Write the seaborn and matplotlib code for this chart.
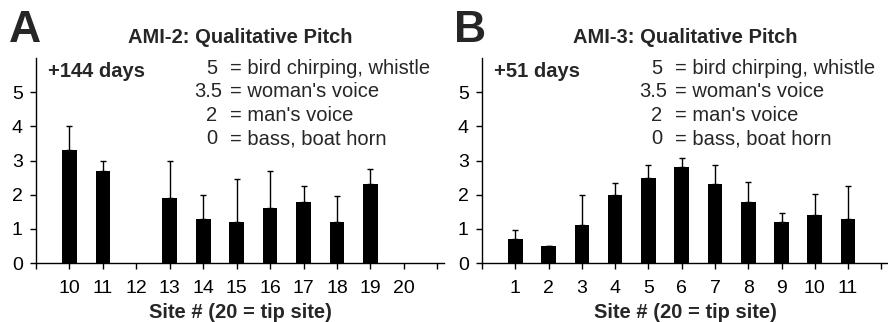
import matplotlib
matplotlib.use("Agg")
import matplotlib.pyplot as plt
import seaborn as sns
import pandas as pd
import numpy as np

# ---- data ----
sites_a = [10, 11, 13, 14, 15, 16, 17, 18, 19]
pitch_a = [3.3, 2.7, 1.9, 1.3, 1.2, 1.6, 1.8, 1.2, 2.3]
err_a = [0.7, 0.3, 1.1, 0.7, 1.25, 1.1, 0.45, 0.75, 0.45]
ticks_a = list(range(9, 22))
ticklabels_a = [""] + [str(s) for s in range(10, 21)] + [""]

sites_b = [1, 2, 3, 4, 5, 6, 7, 8, 9, 10, 11]
pitch_b = [0.7, 0.5, 1.1, 2.0, 2.5, 2.8, 2.3, 1.8, 1.2, 1.4, 1.3]
err_b = [0.28, 0.0, 0.9, 0.35, 0.36, 0.28, 0.57, 0.57, 0.27, 0.63, 0.96]
ticks_b = list(range(0, 13))
ticklabels_b = [""] + [str(s) for s in range(1, 12)] + [""]

titles = ["AMI-2: Qualitative Pitch", "AMI-3: Qualitative Pitch"]
days = ["+144 days", "+51 days"]
panel_letters = ["A", "B"]
key_values = ["5", "3.5", "2", "0"]
key_labels = ["= bird chirping, whistle", "= woman's voice", "= man's voice", "= bass, boat horn"]
xlabel = "Site # (20 = tip site)"
yticks = [0, 1, 2, 3, 4, 5]

sns.set_theme(style="ticks")
plt.rcParams["font.family"] = ["Liberation Sans", "DejaVu Sans"]

W, H = 888, 322
fig = plt.figure(figsize=(W / 100, H / 100), dpi=100)

def px_axes(x0, x1, ytop, ybot):
    return fig.add_axes([x0 / W, 1 - ybot / H, (x1 - x0) / W, (ybot - ytop) / H])

axA = px_axes(36, 444, 58, 263)
axB = px_axes(482, 888, 58, 263)

panels = [
    (axA, sites_a, pitch_a, err_a, ticks_a, ticklabels_a, (9, 21.2)),
    (axB, sites_b, pitch_b, err_b, ticks_b, ticklabels_b, (0, 12.2)),
]

for i, (ax, sites, vals, errs, ticks, tlabels, xlim) in enumerate(panels):
    df = pd.DataFrame({"site": sites, "pitch": vals})
    sns.barplot(data=df, x="site", y="pitch", native_scale=True, width=0.44,
                color="black", saturation=1, edgecolor="none", ax=ax, errorbar=None)
    ax.errorbar(sites, vals, yerr=[np.zeros(len(errs)), errs], fmt="none",
                ecolor="black", elinewidth=1.0, capsize=2.5, capthick=1.0)
    ax.set_xlim(*xlim)
    ax.set_ylim(0, 6)
    ax.set_xticks(ticks)
    ax.set_xticklabels(tlabels, fontsize=14)
    ax.set_yticks(yticks)
    ax.set_yticklabels([str(v) for v in yticks], fontsize=14)
    ax.tick_params(axis="both", direction="out", length=4.5, width=1.0, color="black",
                   labelcolor="black")
    ax.tick_params(axis="x", pad=8)
    ax.tick_params(axis="y", pad=5)
    for s in ["top", "right"]:
        ax.spines[s].set_visible(False)
    for s in ["left", "bottom"]:
        ax.spines[s].set_color("black")
        ax.spines[s].set_linewidth(1.0)
    ax.set_xlabel(xlabel, fontsize=14.5, fontweight="bold", labelpad=4)
    ax.set_ylabel("")
    ax.set_title(titles[i], fontsize=14.5, fontweight="bold", pad=11)
    ax.text(0.03, 0.935, days[i], transform=ax.transAxes, fontsize=14.5,
            fontweight="bold", ha="left", va="center")
    ys = [0.95, 0.835, 0.72, 0.605]
    rights = [0.444, 0.456, 0.444, 0.444]
    for v, lab, y, r in zip(key_values, key_labels, ys, rights):
        ax.text(r, y, v, transform=ax.transAxes, fontsize=14.5, ha="right", va="center")
        ax.text(0.476, y, lab, transform=ax.transAxes, fontsize=14.5, ha="left", va="center")

fig.text(25 / W, 1 - 31 / H, panel_letters[0], fontsize=32, fontweight="bold",
         ha="center", va="center")
fig.text(470 / W, 1 - 31 / H, panel_letters[1], fontsize=32, fontweight="bold",
         ha="center", va="center")

fig.savefig("out.png", dpi=100, facecolor="white")
